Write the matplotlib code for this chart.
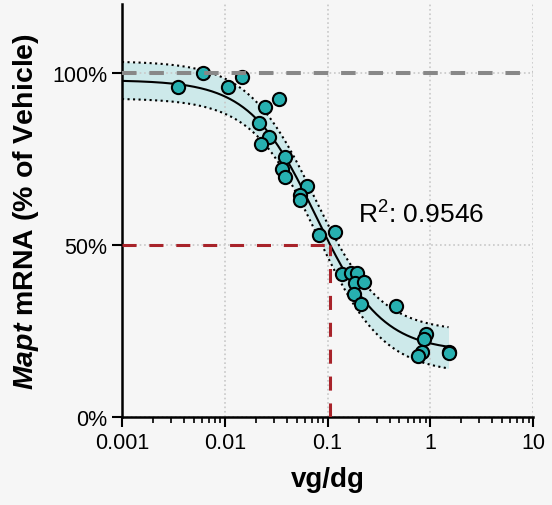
import matplotlib.pyplot as plt
import numpy as np

plt.rcParams['font.family'] = ['Liberation Sans', 'DejaVu Sans']
plt.rcParams['mathtext.fontset'] = 'custom'
plt.rcParams['mathtext.rm'] = 'Liberation Sans'
plt.rcParams['mathtext.bfit'] = 'Liberation Sans:italic:bold'

# data
dose = [0.0035, 0.0061, 0.0108, 0.0147, 0.0337, 0.0247, 0.0215, 0.027, 0.0225,
        0.0386, 0.036, 0.0386, 0.063, 0.054, 0.054, 0.0826, 0.118, 0.138, 0.170,
        0.193, 0.185, 0.226, 0.18, 0.212, 0.465, 0.91, 0.87, 0.83, 0.76, 1.52, 1.50]
mrna = [95.9, 100.0, 95.9, 98.8, 92.4, 90.1, 85.5, 81.4, 79.4,
        75.6, 72.1, 69.8, 67.2, 64.5, 63.1, 52.9, 53.8, 41.6, 41.9,
        41.9, 39.0, 39.2, 35.8, 32.8, 32.3, 24.1, 22.7, 18.9, 17.7, 18.9, 18.5]

# 4PL fit parameters and band spread (top, bottom, log10 ec50)
top, bottom, ec50, hill = 97.9, 19.0, 0.0767, 1.35
spread_up = (5.5, 5.8, 0.038)
spread_lo = (5.3, 6.4, 0.038)
ic50_x = 0.106
r2 = 0.9546

xs = np.logspace(-3, np.log10(1.5), 300)
g = 1 / (1 + (xs / ec50) ** hill)
fit = bottom + (top - bottom) * g


def band_width(dt, db, dl):
    slope = g * (1 - g) * (top - bottom) * hill * np.log(10)
    return np.sqrt((g * dt) ** 2 + ((1 - g) * db) ** 2 + (slope * dl) ** 2)


upper = fit + band_width(*spread_up)
lower = fit - band_width(*spread_lo)

fig = plt.figure(figsize=(5.52, 5.06), dpi=100, facecolor='#f6f6f6')
ax = fig.add_axes([0.221, 0.174, 0.745, 0.816])
ax.set_facecolor('#f6f6f6')

ax.fill_between(xs, lower, upper, color='#cde9ea', lw=0, zorder=1)
ax.plot(xs, upper, ':', color='black', lw=1.5, zorder=2)
ax.plot(xs, lower, ':', color='black', lw=1.5, zorder=2)
ax.plot(xs, fit, '-', color='black', lw=1.5, zorder=3)

ax.plot([0.001, ic50_x], [50, 50], color='#a8232a', ls=(0, (4.6, 4.2)), lw=2.2, zorder=3)
ax.plot([ic50_x, ic50_x], [0, 50], color='#a8232a', ls=(0, (4.6, 4.2)), lw=2.2, zorder=3)

ax.plot(dose, mrna, 'o', ms=9.5, mfc='#27b0b0', mec='black', mew=1.5, zorder=4)
ax.axhline(100, color='#888888', ls=(0, (3.6, 3.2)), lw=2.9, zorder=5)

ax.text(0.198, 59.5, r'R$^2$: ' + f'{r2:.4f}', fontsize=19, ha='left', va='center')

ax.set_xscale('log')
ax.set_xlim(0.001, 10)
ax.set_ylim(0, 120)
ax.set_xticks([0.001, 0.01, 0.1, 1, 10])
ax.set_xticklabels(['0.001', '0.01', '0.1', '1', '10'])
ax.set_yticks([0, 50, 100])
ax.set_yticklabels(['0%', '50%', '100%'])
ax.tick_params(axis='both', which='major', labelsize=15.5, width=1.5, length=7, direction='out')
ax.tick_params(axis='x', which='minor', width=1.2, length=4)
ax.grid(True, which='major', ls=':', color='#c8c8c8', lw=1.2, zorder=0)

for s in ['top', 'right']:
    ax.spines[s].set_visible(False)
for s in ['left', 'bottom']:
    ax.spines[s].set_linewidth(1.8)

ax.set_xlabel('vg/dg', fontsize=20, fontweight='bold', labelpad=10)
ax.set_ylabel(r'$\mathbfit{Mapt}$ mRNA (% of Vehicle)', fontsize=20.5, fontweight='bold', labelpad=8)

fig.savefig('out.png', dpi=100, facecolor=fig.get_facecolor())
